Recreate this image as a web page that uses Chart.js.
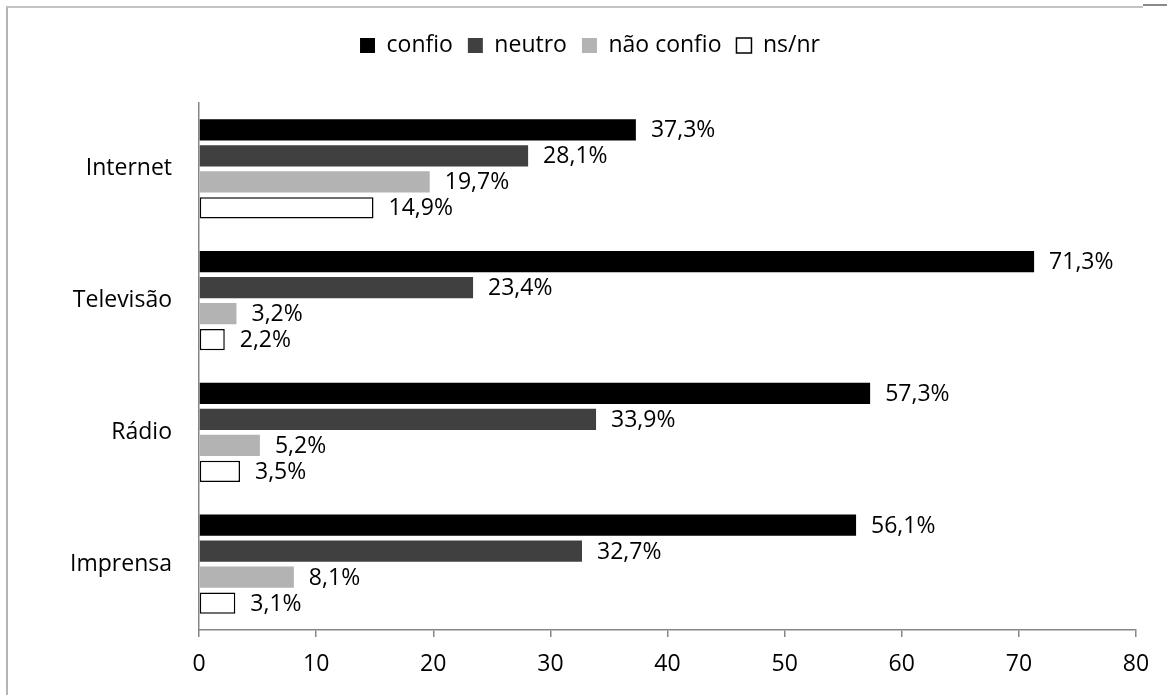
<!DOCTYPE html>
<html>
<head>
<meta charset="utf-8">
<script src="https://cdn.jsdelivr.net/npm/chart.js@4"></script>
<style>
  html, body { margin: 0; padding: 0; background: #fff; }
  .wrap { position: relative; width: 1167px; height: 695px; overflow: hidden; }
  .frame { position: absolute; left: 6px; top: 6px; right: 24px; bottom: -10px;
           border-left: 2px solid #b4b4b4; border-top: 2px solid #c4c4c4; }
  .frame-end { position: absolute; right: 0; top: 4px; width: 24px; height: 2px; background: #8a8a8a; }
  canvas { position: absolute; left: 0; top: 0; }
</style>
</head>
<body>
<div class="wrap">
  <div class="frame"></div>
  <div class="frame-end"></div>
  <canvas id="chartConfianca" width="1167" height="695"></canvas>
</div>
<script>
// meios de comunicação e percentagens por resposta
const categorias = ['Internet', 'Televisão', 'Rádio', 'Imprensa'];
const confio = [37.3, 71.3, 57.3, 56.1];
const neutro = [28.1, 23.4, 33.9, 32.7];
const naoConfio = [19.7, 3.2, 5.2, 8.1];
const nsnr = [14.9, 2.2, 3.5, 3.1];
const ticksX = [0, 10, 20, 30, 40, 50, 60, 70, 80];

const fonte = "'Open Sans', sans-serif";
const tamanho = 23;
Chart.defaults.font.family = fonte;
Chart.defaults.color = '#000';

const fmt = v => v.toFixed(1).replace('.', ',') + '%';

// rótulos de valor à direita de cada barra
const rotulos = {
    id: 'rotulos',
    afterDatasetsDraw(chart) {
        const ctx = chart.ctx;
        ctx.save();
        ctx.font = tamanho + 'px ' + fonte;
        ctx.fillStyle = '#000';
        ctx.textBaseline = 'middle';
        ctx.textAlign = 'left';
        chart.data.datasets.forEach((ds, i) => {
            chart.getDatasetMeta(i).data.forEach((bar, j) => {
                ctx.fillText(fmt(ds.data[j]), bar.x + 15, bar.y + 1);
            });
        });
        ctx.restore();
    }
};

// altura fixa para a legenda
const alturaLegenda = {
    id: 'alturaLegenda',
    beforeInit(chart) {
        const fit = chart.legend.fit;
        chart.legend.fit = function () {
            fit.bind(this)();
            this.height = 84;
        };
    }
};

new Chart(document.getElementById('chartConfianca'), {
    type: 'bar',
    data: {
        labels: categorias,
        datasets: [
            { label: 'confio', data: confio, backgroundColor: '#000000', borderWidth: 0 },
            { label: 'neutro', data: neutro, backgroundColor: '#404040', borderWidth: 0 },
            { label: 'não confio', data: naoConfio, backgroundColor: '#b3b3b3', borderWidth: 0 },
            { label: 'ns/nr', data: nsnr, backgroundColor: '#ffffff', borderColor: '#000000', borderWidth: 1.5, borderSkipped: false }
        ]
    },
    options: {
        indexAxis: 'y',
        responsive: false,
        animation: false,
        categoryPercentage: 0.79,
        barPercentage: 0.81,
        layout: { padding: { top: 19, right: 31, bottom: 0, left: 44 } },
        plugins: {
            legend: {
                position: 'top',
                align: 'center',
                labels: {
                    font: { size: tamanho },
                    color: '#000',
                    boxWidth: 15,
                    boxHeight: 15,
                    padding: 15,
                    useBorderRadius: false
                }
            },
            tooltip: { enabled: false }
        },
        scales: {
            x: {
                min: 0,
                max: 80,
                afterBuildTicks(scale) { scale.ticks = ticksX.map(v => ({ value: v })); },
                afterFit(scale) { scale.height = 65; },
                grid: { display: true, drawOnChartArea: false, drawTicks: true, tickLength: 7, color: '#868686', lineWidth: 1.5 },
                border: { display: true, color: '#868686', width: 1.5 },
                ticks: { font: { size: tamanho }, color: '#000', padding: 14 }
            },
            y: {
                afterFit(scale) { scale.width = 155; },
                grid: { display: false, drawTicks: false },
                border: { display: true, color: '#868686', width: 1.5 },
                ticks: { font: { size: tamanho }, color: '#000', padding: 27 }
            }
        }
    },
    plugins: [rotulos, alturaLegenda]
});
</script>
</body>
</html>
